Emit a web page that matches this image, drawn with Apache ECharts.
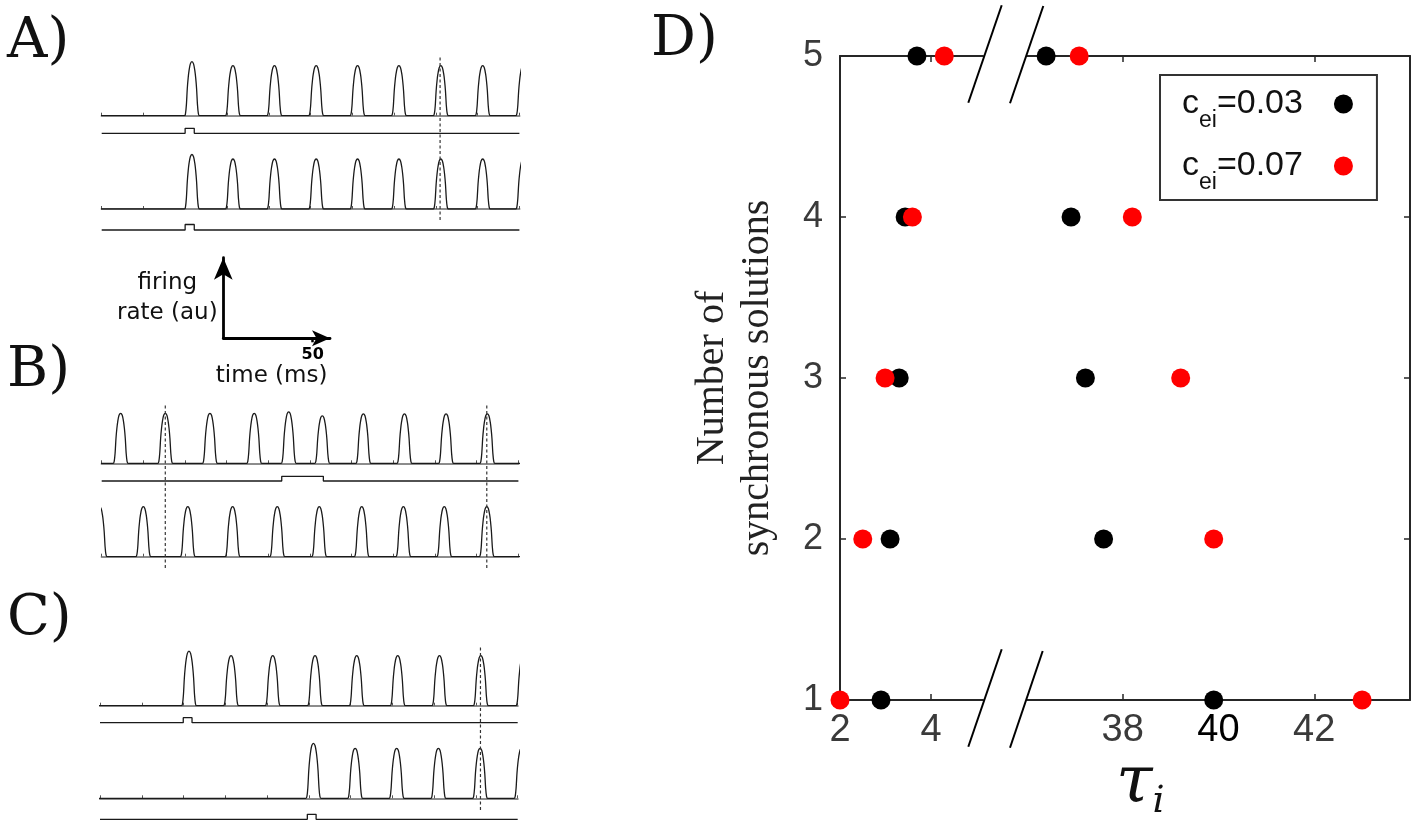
<!DOCTYPE html>
<html><head><meta charset="utf-8">
<script src="https://cdn.jsdelivr.net/npm/echarts@6/dist/echarts.min.js"></script>
<style>html,body{margin:0;padding:0;background:#fff}#c{width:1416px;height:820px}</style>
</head><body><div id="c"></div><script>
// ------------------ DATA ------------------
// time window of every trace (ms) and its tick step
const T_MAX = 233.3;
const T_TICK = 23.33;
// pulse shape: offset from peak (ms) and relative height
const PULSE_DT = [-4.2, -3.6, -3.1, -2.6, -2.1, -1.6, -0.9, 0, 0.9, 1.6, 2.1, 2.6, 3.1, 3.6, 4.2];
const PULSE_H  = [0, 0.04, 0.2, 0.5, 0.7, 0.84, 0.96, 1, 0.96, 0.84, 0.7, 0.5, 0.2, 0.04, 0];

// Panel A
const A1_PEAKS = [50.4, 73.3, 96.5, 119.8, 142.9, 166.0, 189.4, 212.8, 235.5];
const A1_AMPS  = [1.08, 1, 1, 1, 1, 1, 1, 1, 1];
const A1_STIM  = [46.6, 51.7];
const A2_PEAKS = [50.4, 73.3, 96.5, 119.8, 142.9, 166.0, 189.4, 212.8, 235.5];
const A2_AMPS  = [1.09, 1, 1, 1, 1, 1, 1, 1, 1];
const A2_STIM  = [46.6, 51.7];
const A_MARKS  = [189.0];
// Panel B
const B1_PEAKS = [10.6, 35.6, 60.6, 85.4, 104.7, 123.5, 146.5, 169.5, 192.8, 215.9];
const B1_AMPS  = [1.0, 1.0, 1.0, 1.0, 1.03, 0.95, 0.99, 0.99, 0.99, 0.99];
const B_STIM   = [100.8, 124.1];
const B2_PEAKS = [-1.2, 23.3, 48.2, 73.3, 98.3, 121.8, 145.6, 168.9, 191.8, 215.6];
const B2_AMPS  = [1, 1, 1, 1, 1, 1, 1, 1, 1, 1];
const B_MARKS  = [35.6, 215.6];
// Panel C
const C1_PEAKS = [49.7, 73.2, 96.5, 120.1, 143.4, 166.3, 189.6, 212.7, 236.5];
const C1_AMPS  = [1.09, 1, 1, 1, 1, 1, 1, 1, 1];
const C1_STIM  = [46.5, 51.4];
const C2_PEAKS = [119.2, 142.5, 165.7, 189.0, 212.3, 235.5];
const C2_AMPS  = [1.1, 1, 1, 1, 1, 1];
const C2_STIM  = [115.8, 120.7];
const C_MARKS  = [212.5];
// scale bar
const SCALE_T_MAX = 59.7;
const SCALE_TICK = [50];

// Panel D
const N_SOLUTIONS = [1, 2, 3, 4, 5];
const CEI = ['0.03', '0.07'];
const TAU_LOW_003  = [2.90, 3.10, 3.30, 3.43, 3.69];
const TAU_HIGH_003 = [39.9, 37.60, 37.22, 36.92, 36.40];
const TAU_LOW_007  = [2.00, 2.50, 2.99, 3.59, 4.29];
const TAU_HIGH_007 = [43.0, 39.9, 39.21, 38.20, 37.09];
const TAU_LOW_RANGE = [2, 5.14];
const TAU_HIGH_RANGE = [36, 44];
const TAU_LOW_TICKS = [2, 4];
const TAU_HIGH_TICKS = [38, 42];
const TAU_HIGH_LABELS = [38, 40, 42];

// ------------------ BUILD ------------------
const grids = [], xAxes = [], yAxes = [], series = [];
const LINE = '#1a1a1a';
function grid(left, top, width, height) { grids.push({left, top, width, height}); return grids.length - 1; }
function xAx(o) { xAxes.push(o); return xAxes.length - 1; }
function yAx(o) { yAxes.push(o); return yAxes.length - 1; }

function buildTrace(peaks, amps) {
  const pts = [[-10, 0]];
  peaks.forEach((p, i) => PULSE_DT.forEach((d, j) => pts.push([p + d, amps[i] * PULSE_H[j]])));
  pts.push([T_MAX + 10, 0]);
  return pts;
}
function tracePanel(left, width, baseline, peaks, amps) {
  const gi = grid(left, baseline - 60, width, 60);
  const xi = xAx({gridIndex: gi, type: 'value', min: 0, max: T_MAX, interval: T_TICK,
    axisLine: {show: true, onZero: false, lineStyle: {color: '#8c8c8c', width: 2.2}},
    axisTick: {show: true, inside: true, length: 3, lineStyle: {color: '#555', width: 1}},
    axisLabel: {show: false}, splitLine: {show: false}});
  const yi = yAx({gridIndex: gi, type: 'value', min: 0, max: 1.2, show: false});
  series.push({type: 'line', xAxisIndex: xi, yAxisIndex: yi, data: buildTrace(peaks, amps), smooth: 0.25,
    showSymbol: false, symbol: 'none', silent: true, z: 3, lineStyle: {color: LINE, width: 1.3}});
}
function stimPanel(left, width, top, height, onoff) {
  const gi = grid(left, top, width, height);
  const xi = xAx({gridIndex: gi, type: 'value', min: 0, max: T_MAX, show: false});
  const yi = yAx({gridIndex: gi, type: 'value', min: 0, max: 1, show: false});
  const d = [[0, 0], [onoff[0], 0], [onoff[0], 1], [onoff[1], 1], [onoff[1], 0], [T_MAX, 0]];
  series.push({type: 'line', xAxisIndex: xi, yAxisIndex: yi, data: d, showSymbol: false, symbol: 'none',
    silent: true, clip: false, lineStyle: {color: LINE, width: 1.3}});
}
function markPanel(left, width, top, height, times) {
  const gi = grid(left, top, width, height);
  const xi = xAx({gridIndex: gi, type: 'value', min: 0, max: T_MAX, show: false});
  const yi = yAx({gridIndex: gi, type: 'value', min: 0, max: 1, show: false});
  times.forEach(t => series.push({type: 'line', xAxisIndex: xi, yAxisIndex: yi, data: [[t, 0], [t, 1]],
    showSymbol: false, symbol: 'none', silent: true, z: 4,
    lineStyle: {color: '#333', width: 1.2, type: [3, 2.5]}}));
}

// Panel A
tracePanel(101.7, 417.7, 115.7, A1_PEAKS, A1_AMPS);
stimPanel(101.7, 417.7, 128.3, 5, A1_STIM);
tracePanel(101.7, 417.7, 209, A2_PEAKS, A2_AMPS);
stimPanel(101.7, 417.7, 224.5, 5.5, A2_STIM);
markPanel(101.7, 417.7, 55, 165, A_MARKS);
// Panel B
tracePanel(101.7, 416.7, 463.3, B1_PEAKS, B1_AMPS);
stimPanel(101.7, 416.7, 476.3, 4.7, B_STIM);
tracePanel(101.7, 416.7, 556.7, B2_PEAKS, B2_AMPS);
markPanel(101.7, 416.7, 404, 164, B_MARKS);
// Panel C
tracePanel(100, 417.7, 705.7, C1_PEAKS, C1_AMPS);
stimPanel(100, 417.7, 717.7, 5, C1_STIM);
tracePanel(100, 417.7, 798.3, C2_PEAKS, C2_AMPS);
stimPanel(100, 417.7, 814.3, 5, C2_STIM);
markPanel(100, 417.7, 645, 165, C_MARKS);

// scale bar
(function () {
  const gi = grid(223.3, 257.7, 106.7, 80.6);
  xAx({gridIndex: gi, type: 'value', min: 0, max: SCALE_T_MAX,
    axisLine: {show: true, onZero: false, symbol: ['none', 'arrow'], symbolSize: [12, 18], lineStyle: {color: '#000', width: 2.8}},
    axisTick: {show: true, customValues: SCALE_TICK, length: 4, lineStyle: {color: '#000', width: 2.5}},
    axisLabel: {show: true, customValues: SCALE_TICK, fontFamily: 'DejaVu Sans', fontWeight: 'bold', fontSize: 16, color: '#000', margin: 9},
    splitLine: {show: false},
    name: 'time (ms)', nameLocation: 'middle', nameGap: 26,
    nameTextStyle: {fontFamily: 'DejaVu Sans', fontSize: 23, color: '#111', padding: [0, 10, 0, 0]}});
  yAx({gridIndex: gi, type: 'value', min: 0, max: 1,
    axisLine: {show: true, onZero: false, symbol: ['none', 'arrow'], symbolSize: [14, 22], lineStyle: {color: '#000', width: 2.8}},
    axisTick: {show: false}, axisLabel: {show: false}, splitLine: {show: false},
    name: 'firing\nrate (au)', nameLocation: 'middle', nameRotate: 0, nameGap: 56,
    nameTextStyle: {fontFamily: 'DejaVu Sans', fontSize: 23, color: '#111', align: 'center', verticalAlign: 'middle', lineHeight: 30, padding: [0, 0, 6, 0]}});
})();

// Panel D
const AX = '#262626';
const LBL = '#3a3a3a';
const dLow = grid(840, 56, 143, 644);
const dHigh = grid(1027, 56, 383, 644);
function dX(gi, pos, range, ticks, labels, formatter) {
  return xAx({gridIndex: gi, type: 'value', position: pos, min: range[0], max: range[1],
    axisLine: {show: true, onZero: false, lineStyle: {color: AX, width: 2}},
    axisTick: {show: true, inside: true, length: 6, customValues: ticks, lineStyle: {color: AX, width: 1.5}},
    axisLabel: labels ? {show: true, customValues: labels, fontFamily: 'Liberation Sans', fontSize: 38, color: LBL, margin: 12,
      formatter: formatter, rich: {b: {color: '#000', fontSize: 38, fontFamily: 'Liberation Sans'}}} : {show: false},
    splitLine: {show: false}});
}
const xLowB = dX(dLow, 'bottom', TAU_LOW_RANGE, TAU_LOW_TICKS, TAU_LOW_TICKS);
dX(dLow, 'top', TAU_LOW_RANGE, TAU_LOW_TICKS, null);
const xHighB = dX(dHigh, 'bottom', TAU_HIGH_RANGE, TAU_HIGH_TICKS, TAU_HIGH_LABELS, v => v === 40 ? '{b|40}' : String(v));
dX(dHigh, 'top', TAU_HIGH_RANGE, TAU_HIGH_TICKS, null);
const yLow = yAx({gridIndex: dLow, type: 'value', position: 'left', min: 1, max: 5, interval: 1,
  axisLine: {show: true, onZero: false, lineStyle: {color: AX, width: 2}},
  axisTick: {show: true, inside: true, length: 6, lineStyle: {color: AX, width: 1.5}},
  axisLabel: {show: true, fontFamily: 'Liberation Sans', fontSize: 36, color: LBL, margin: 17},
  splitLine: {show: false},
  name: 'Number of\nsynchronous solutions', nameLocation: 'middle', nameRotate: 90, nameGap: 60,
  nameTextStyle: {fontFamily: 'Liberation Serif', fontSize: 40, lineHeight: 45, color: '#222'}});
const yHigh = yAx({gridIndex: dHigh, type: 'value', position: 'right', min: 1, max: 5, interval: 1,
  axisLine: {show: true, onZero: false, lineStyle: {color: AX, width: 2}},
  axisTick: {show: true, inside: true, length: 6, lineStyle: {color: AX, width: 1.5}},
  axisLabel: {show: false}, splitLine: {show: false}});

const NAMES = CEI.map(c => 'c_ei=' + c);
function scat(name, color, xi, yi, xs) {
  series.push({type: 'scatter', name, xAxisIndex: xi, yAxisIndex: yi, symbol: 'circle', symbolSize: 19,
    itemStyle: {color, opacity: 1}, z: 5, clip: false, data: N_SOLUTIONS.map((n, i) => [xs[i], n])});
}
scat(NAMES[0], '#000000', xLowB, yLow, TAU_LOW_003);
scat(NAMES[0], '#000000', xHighB, yHigh, TAU_HIGH_003);
scat(NAMES[1], '#ff0000', xLowB, yLow, TAU_LOW_007);
scat(NAMES[1], '#ff0000', xHighB, yHigh, TAU_HIGH_007);

const option = {
  animation: false,
  backgroundColor: '#fff',
  grid: grids, xAxis: xAxes, yAxis: yAxes, series,
  legend: {
    show: true, orient: 'vertical', left: 1160, top: 75, align: 'right', icon: 'circle',
    itemWidth: 19, itemHeight: 19, itemGap: 17, padding: [12, 24, 6, 22],
    borderColor: '#333', borderWidth: 2, backgroundColor: '#fff', selectedMode: false,
    data: NAMES,
    formatter: name => '{m|c}{s|ei}{m|=' + name.split('=')[1] + '}{g| }',
    textStyle: {color: '#111', rich: {
      m: {fontFamily: 'Liberation Sans', fontSize: 34, lineHeight: 56, color: '#111'},
      s: {fontFamily: 'Liberation Sans', fontSize: 23, lineHeight: 12, verticalAlign: 'bottom', color: '#111'},
      g: {width: 26, fontSize: 10}
    }}
  },
  graphic: [
    {type: 'text', x: 7, y: 42, style: {text: 'A)', font: '56px "DejaVu Serif"', fill: '#111', verticalAlign: 'middle'}},
    {type: 'text', x: 7, y: 371, style: {text: 'B)', font: '56px "DejaVu Serif"', fill: '#111', verticalAlign: 'middle'}},
    {type: 'text', x: 7, y: 619, style: {text: 'C)', font: '56px "DejaVu Serif"', fill: '#111', verticalAlign: 'middle'}},
    {type: 'text', x: 651, y: 40, style: {text: 'D)', font: '56px "DejaVu Serif"', fill: '#111', verticalAlign: 'middle'}},
    {type: 'line', shape: {x1: 968.3, y1: 746.7, x2: 1001.7, y2: 649.3}, style: {stroke: '#000', lineWidth: 2}, z: 10},
    {type: 'line', shape: {x1: 1010, y1: 747.7, x2: 1042.7, y2: 651}, style: {stroke: '#000', lineWidth: 2}, z: 10},
    {type: 'line', shape: {x1: 968.3, y1: 102.7, x2: 1001.7, y2: 5.3}, style: {stroke: '#000', lineWidth: 2}, z: 10},
    {type: 'line', shape: {x1: 1010, y1: 103.3, x2: 1043.3, y2: 6}, style: {stroke: '#000', lineWidth: 2}, z: 10},
    {type: 'text', x: 1116, y: 749, style: {text: '{t|τ}{s|i}', verticalAlign: 'top', rich: {
      t: {fontFamily: 'DejaVu Serif', fontStyle: 'italic', fontSize: 66, lineHeight: 72, fill: '#111'},
      s: {fontFamily: 'DejaVu Serif', fontStyle: 'italic', fontSize: 38, lineHeight: 36, verticalAlign: 'bottom', fill: '#111'}
    }}}
  ]
};
const chart = echarts.init(document.getElementById('c'));
chart.setOption(option);
</script></body></html>
